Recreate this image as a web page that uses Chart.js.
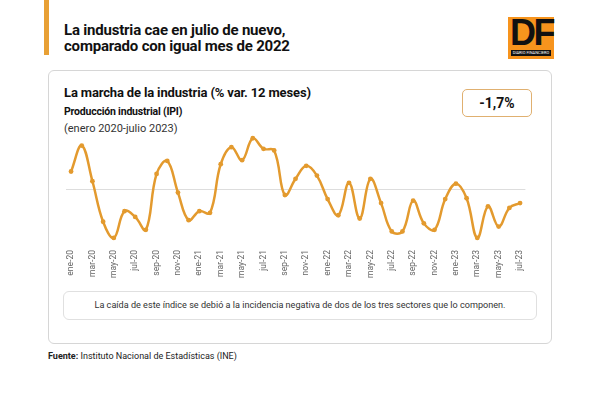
<!DOCTYPE html>
<html>
<head>
<meta charset="utf-8">
<script src="https://cdn.jsdelivr.net/npm/chart.js@4"></script>
<style>
  body { margin: 0; width: 600px; height: 394px; background: #fff; font-family: Roboto, "Noto Sans", sans-serif; position: relative; overflow: hidden; color: #111; }
  .bar { position: absolute; left: 44px; top: 0; width: 5px; height: 55px; background: #E8A035; }
  .title { position: absolute; left: 64px; top: 22px; font-size: 15px; font-weight: 700; line-height: 16px; letter-spacing: -0.2px; }
  .logo { position: absolute; left: 508px; top: 17px; width: 46px; height: 42px; background: #F7941D; }
  .logo .df { position: absolute; left: 2px; top: -5px; font-size: 36px; font-weight: 700; letter-spacing: -2.5px; color: #111; font-family: "Liberation Sans", Arial, sans-serif; }
  .logo .strip { position: absolute; left: 3px; right: 3px; bottom: 3px; height: 6px; background: #111; color: #fff; font-size: 4px; line-height: 6px; text-align: center; white-space: nowrap; overflow: hidden; }
  .card { position: absolute; left: 48px; top: 70px; width: 504px; height: 274px; border: 1px solid #d6d6d6; border-radius: 6px; box-sizing: border-box; }
  .h1 { position: absolute; left: 64px; top: 85px; font-size: 13px; font-weight: 700; letter-spacing: -0.15px; }
  .h2 { position: absolute; left: 64px; top: 105px; font-size: 10.5px; font-weight: 700; letter-spacing: -0.2px; }
  .h3 { position: absolute; left: 64px; top: 122px; font-size: 11px; color: #333; }
  .badge { position: absolute; left: 462px; top: 89px; width: 70px; height: 28px; border: 1px solid #E0B070; border-radius: 5px; box-sizing: border-box; text-align: center; line-height: 26px; font-size: 14px; font-weight: 700; }
  .note { position: absolute; left: 63px; top: 291px; width: 474px; height: 29px; border: 1px solid #e0e0e0; border-radius: 6px; box-sizing: border-box; text-align: center; line-height: 27px; font-size: 9.1px; color: #333; }
  .src { position: absolute; left: 48px; top: 351px; font-size: 9px; color: #222; }
  .chartbox { position: absolute; left: 55px; top: 128px; width: 485px; height: 154px; }
</style>
</head>
<body>
<div class="bar"></div>
<div class="title">La industria cae en julio de nuevo,<br>comparado con igual mes de 2022</div>
<div class="logo"><div class="df">DF</div><div class="strip">DIARIO FINANCIERO</div></div>
<div class="card"></div>
<div class="h1">La marcha de la industria (% var. 12 meses)</div>
<div class="h2">Producción industrial (IPI)</div>
<div class="h3">(enero 2020-julio 2023)</div>
<div class="badge">-1,7%</div>
<div class="chartbox"><canvas id="ipiChart" width="485" height="154"></canvas></div>
<div class="note">La caída de este índice se debió a la incidencia negativa de dos de los tres sectores que lo componen.</div>
<div class="src"><b>Fuente:</b> Instituto Nacional de Estadísticas (INE)</div>

<script>
// Months ene-20 .. jul-23
const months = [
  'ene-20','feb-20','mar-20','abr-20','may-20','jun-20','jul-20','ago-20','sep-20','oct-20','nov-20','dic-20',
  'ene-21','feb-21','mar-21','abr-21','may-21','jun-21','jul-21','ago-21','sep-21','oct-21','nov-21','dic-21',
  'ene-22','feb-22','mar-22','abr-22','may-22','jun-22','jul-22','ago-22','sep-22','oct-22','nov-22','dic-22',
  'ene-23','feb-23','mar-23','abr-23','may-23','jun-23','jul-23'
];

// IPI, % var. 12 meses
const ipiValues = [
  2.2, 5.4, 1.0, -4.0, -6.0, -2.7, -3.4, -5.0, 1.9, 3.5, -0.4, -3.8,
  -2.7, -2.9, 3.1, 5.2, 3.6, 6.3, 5.0, 4.8, -0.7, 1.3, 2.9, 1.7,
  -1.2, -3.2, 0.8, -3.6, 1.3, -1.7, -5.2, -5.2, -1.4, -4.2, -5.0, -1.2,
  0.7, -1.1, -6.0, -2.1, -4.6, -2.3, -1.7
];

const lineColor = '#E39A2E';

document.addEventListener('DOMContentLoaded', function() {
  const ctx = document.getElementById('ipiChart').getContext('2d');
  new Chart(ctx, {
    type: 'line',
    data: {
      labels: months,
      datasets: [{
        data: ipiValues,
        borderColor: lineColor,
        backgroundColor: lineColor,
        borderWidth: 2.5,
        pointRadius: 2.4,
        pointBorderWidth: 0,
        tension: 0.4,
        fill: false
      }]
    },
    options: {
      responsive: false,
      animation: false,
      layout: { padding: { top: 4.6, left: 10.7, right: 14.6, bottom: 0 } },
      plugins: { legend: { display: false }, tooltip: { enabled: false } },
      scales: {
        x: {
          offset: true,
          grid: { display: false, drawTicks: false, tickLength: 0 },
          border: { display: false },
          ticks: {
            autoSkip: false,
            minRotation: 90,
            maxRotation: 90,
            padding: 4,
            color: '#666',
            font: { size: 8.5, family: 'Roboto' },
            callback: function(val, i) { return i % 2 === 0 ? months[i] : ''; }
          }
        },
        y: {
          min: -7,
          max: 7,
          ticks: { display: false, stepSize: 7 },
          border: { display: false },
          grid: {
            drawTicks: false,
            color: function(c) { return c.tick && c.tick.value === 0 ? '#dddddd' : 'rgba(0,0,0,0)'; }
          }
        }
      }
    }
  });
});
</script>
</body>
</html>
